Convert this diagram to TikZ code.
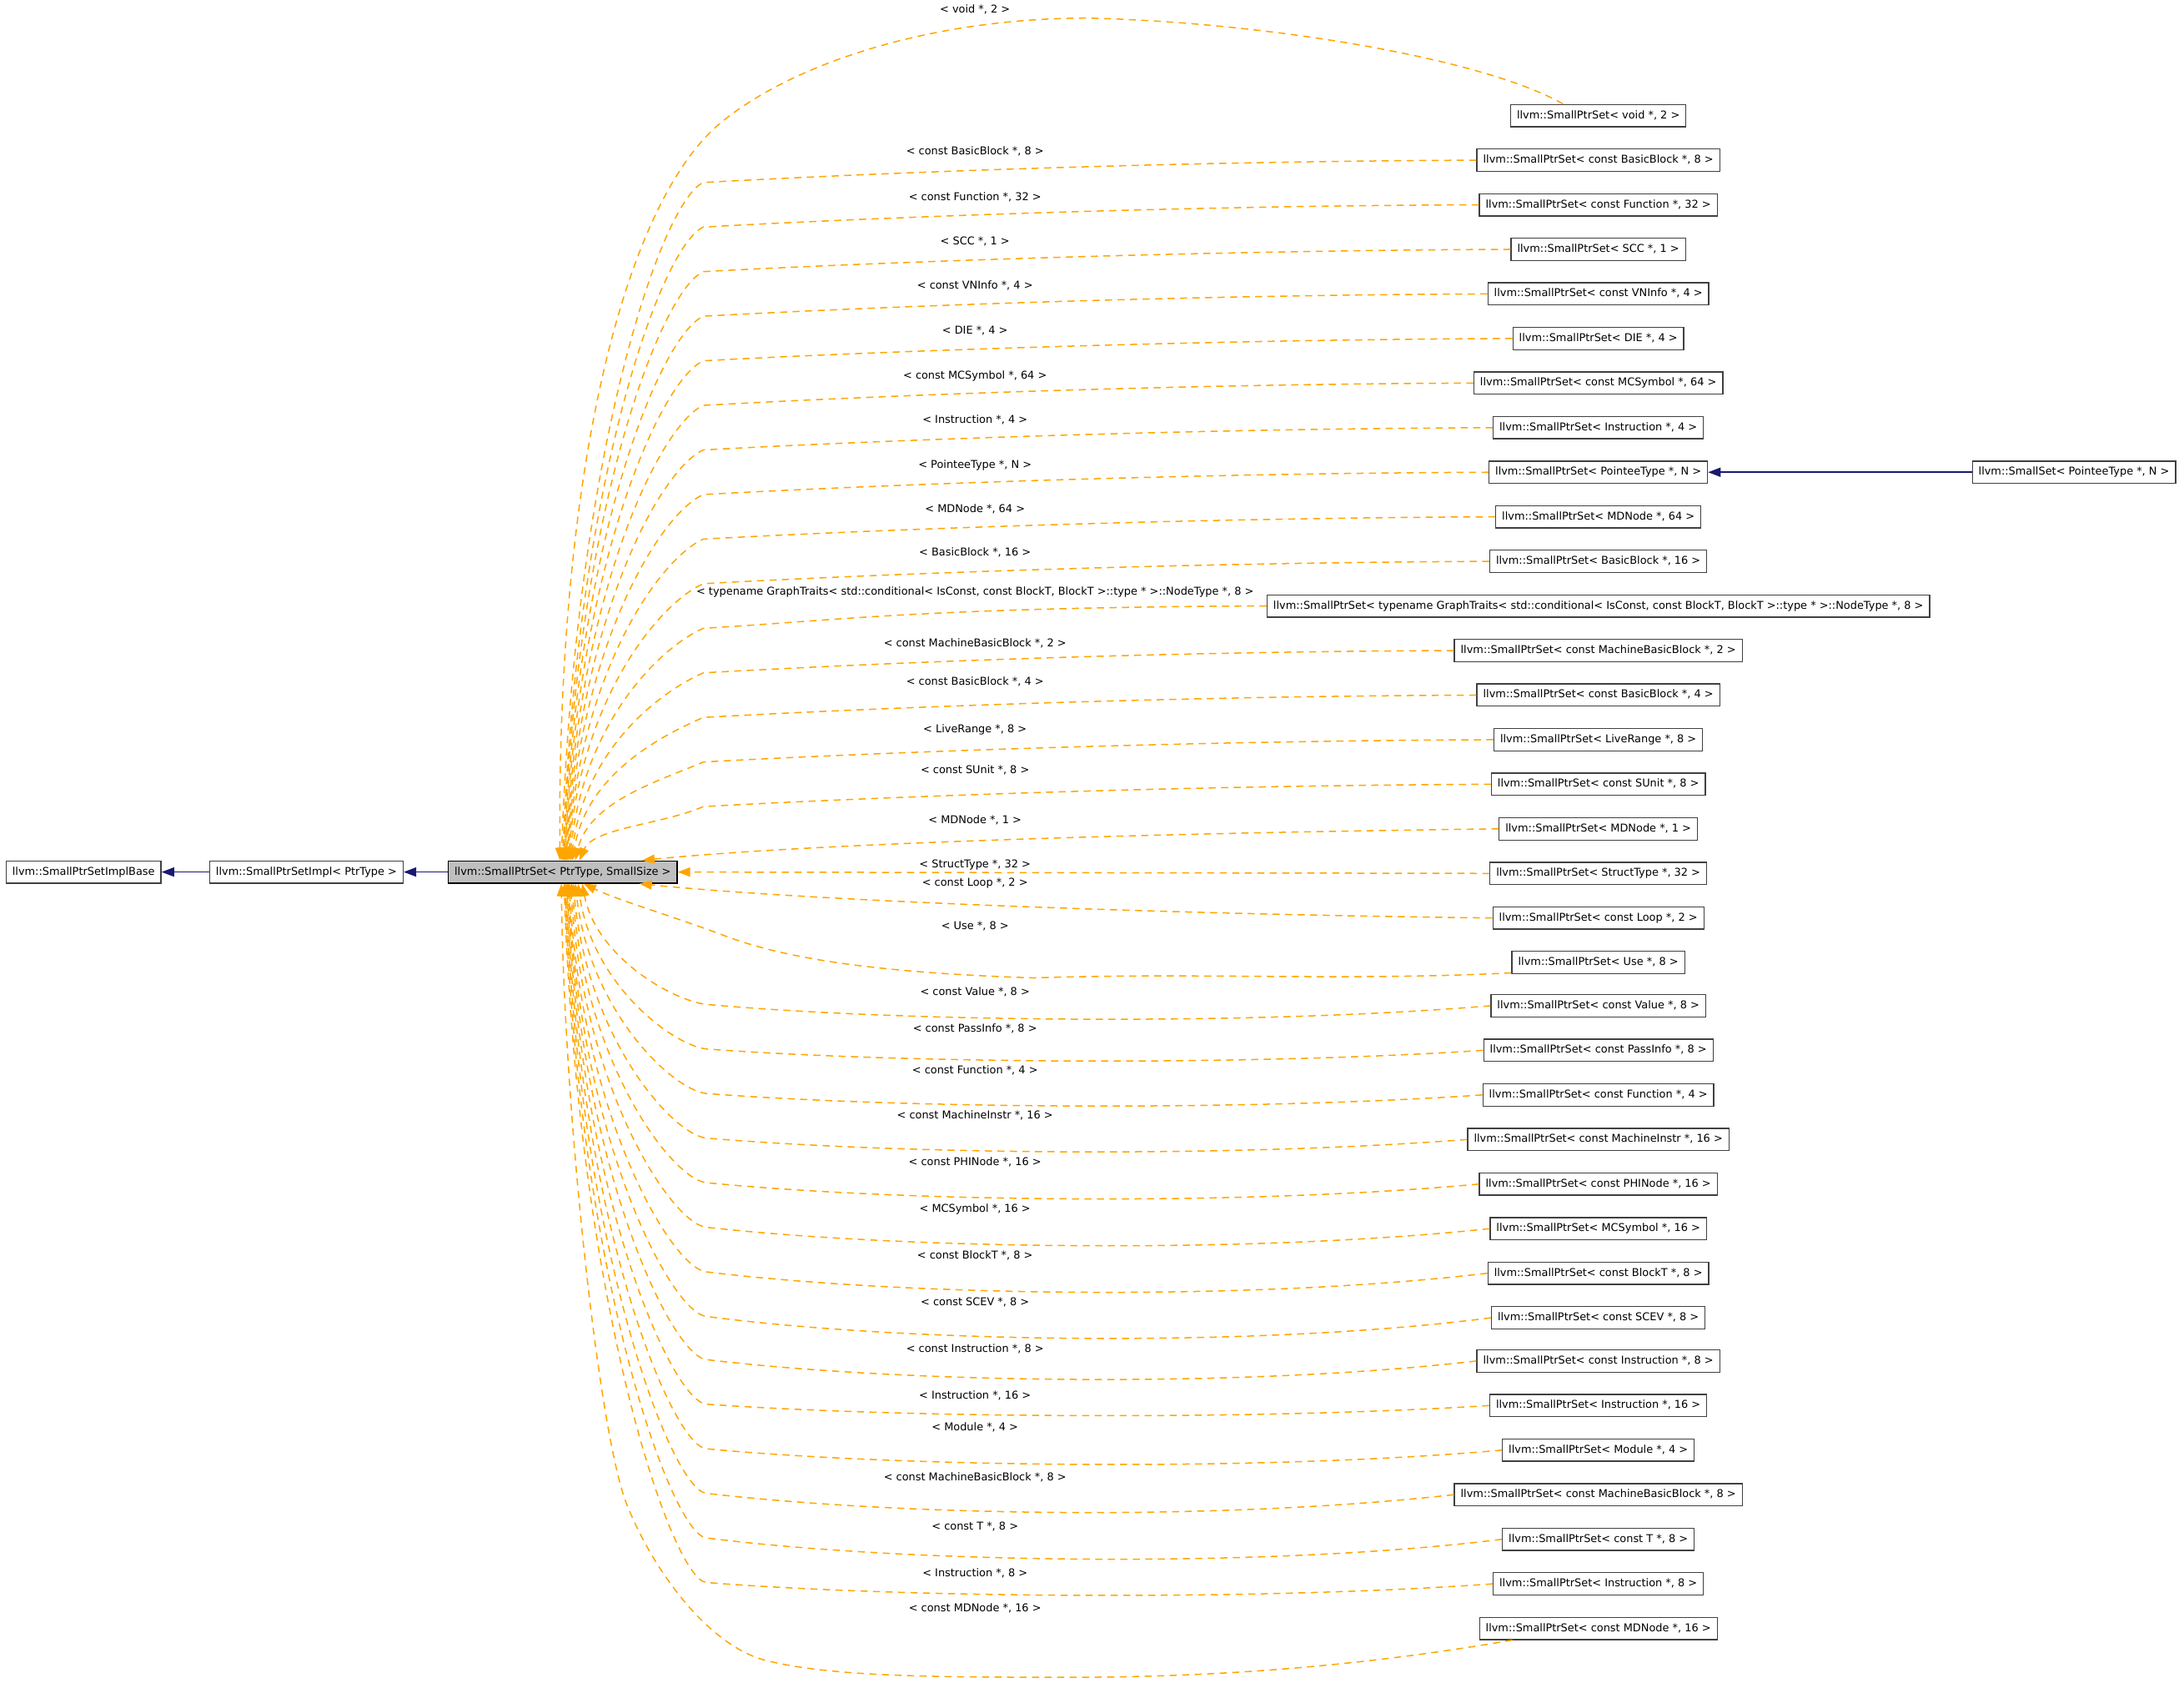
\documentclass[tikz,border=0pt]{standalone}
\usepackage{fontspec}
\setmainfont{DejaVu Sans}
\usetikzlibrary{arrows.meta,calc}
\definecolor{dxorange}{HTML}{FFA500}
\definecolor{dxnavy}{HTML}{191970}
\definecolor{dxgrey}{HTML}{BFBFBF}
\definecolor{dxborder}{HTML}{404040}
\tikzset{
  every node/.style={font=\fontsize{12.9pt}{15pt}\selectfont},
  cls/.style={draw=dxborder, line width=1.3pt, fill=white, inner xsep=7.5pt, inner ysep=0pt,
    minimum height=26.7pt, text height=9.6pt, text depth=2.6pt},
  lbl/.style={inner sep=0pt, text height=9.6pt, text depth=2.6pt},
  inh/.style={draw=dxorange, line width=1.5pt, dash pattern=on 8.5pt off 6.5pt,
    -{Triangle[length=15pt,width=11pt,fill=dxorange]}},
  pub/.style={draw=dxnavy, line width=1.5pt, -{Triangle[length=15pt,width=11pt,fill=dxnavy]}}
}
\newcommand\rn[3]{\node[cls] (#1) at (1147.5,#2) {llvm::SmallPtrSet< #3 >};}
\newcommand\lb[3]{\node[lbl] (l#1) at (700,#2) {< #3 >};}
\newcommand\tedge[3]{\draw[inh] (#1.west) .. controls +(-250,1) and +(90,-5) .. (505,#2+16) .. controls +(-30,13) and +(10,{-0.6*(602-#2)}) .. ($(g.north)+(#3,0)$);}
% #4 = sag of the line below the node, near x=770
\newcommand\bedge[4]{\pgfmathsetmacro\sg{#4/0.8625}\draw[inh] (#1.west) .. controls +(-170,{1.3*\sg}) and +(143,{\sg+2}) .. (507,#2-1) .. controls +(-25,-3) and +(10,{0.6*(#2-635)}) .. ($(g.south)+(#3,0)$);}
\begin{document}
\begin{tikzpicture}[x=1.6703pt,y=-1.6703pt]
\useasboundingbox (0,0) rectangle (1568,1208);
% left chain
\node[cls] (base) at (60,626) {llvm::SmallPtrSetImplBase};
\node[cls] (imp) at (220,626) {llvm::SmallPtrSetImpl< PtrType >};
\node[cls, fill=dxgrey, draw=black] (g) at (404,626) {llvm::SmallPtrSet< PtrType, SmallSize >};
\draw[pub] (imp.west) -- (base.east);
\draw[pub] (g.west) -- (imp.east);
% right nodes
\rn{n1}{83}{void *, 2}
\rn{n2}{115}{const BasicBlock *, 8}
\rn{n3}{147}{const Function *, 32}
\rn{n4}{179}{SCC *, 1}
\rn{n5}{211}{const VNInfo *, 4}
\rn{n6}{243}{DIE *, 4}
\rn{n7}{275}{const MCSymbol *, 64}
\rn{n8}{307}{Instruction *, 4}
\rn{n9}{339}{PointeeType *, N}
\rn{n10}{371}{MDNode *, 64}
\rn{n11}{403}{BasicBlock *, 16}
\rn{n12}{435}{typename GraphTraits< std::conditional< IsConst, const BlockT, BlockT >::type * >::NodeType *, 8}
\rn{n13}{467}{const MachineBasicBlock *, 2}
\rn{n14}{499}{const BasicBlock *, 4}
\rn{n15}{531}{LiveRange *, 8}
\rn{n16}{563}{const SUnit *, 8}
\rn{n17}{595}{MDNode *, 1}
\rn{n18}{627}{StructType *, 32}
\rn{n19}{659}{const Loop *, 2}
\rn{n20}{691}{Use *, 8}
\rn{n21}{722}{const Value *, 8}
\rn{n22}{754}{const PassInfo *, 8}
\rn{n23}{786}{const Function *, 4}
\rn{n24}{818}{const MachineInstr *, 16}
\rn{n25}{850}{const PHINode *, 16}
\rn{n26}{882}{MCSymbol *, 16}
\rn{n27}{914}{const BlockT *, 8}
\rn{n28}{946}{const SCEV *, 8}
\rn{n29}{977}{const Instruction *, 8}
\rn{n30}{1009}{Instruction *, 16}
\rn{n31}{1041}{Module *, 4}
\rn{n32}{1073}{const MachineBasicBlock *, 8}
\rn{n33}{1105}{const T *, 8}
\rn{n34}{1137}{Instruction *, 8}
\rn{n35}{1169}{const MDNode *, 16}
\node[cls] (ss) at (1489,339) {llvm::SmallSet< PointeeType *, N >};
\draw[pub] (ss.west) -- (n9.east);
% labels
\lb{1}{7.4}{void *, 2}
\lb{2}{109}{const BasicBlock *, 8}
\lb{3}{141.7}{const Function *, 32}
\lb{4}{173.7}{SCC *, 1}
\lb{5}{205.5}{const VNInfo *, 4}
\lb{6}{237.5}{DIE *, 4}
\lb{7}{269.8}{const MCSymbol *, 64}
\lb{8}{301.8}{Instruction *, 4}
\lb{9}{334}{PointeeType *, N}
\lb{10}{366}{MDNode *, 64}
\lb{11}{397}{BasicBlock *, 16}
\lb{12}{425}{typename GraphTraits< std::conditional< IsConst, const BlockT, BlockT >::type * >::NodeType *, 8}
\lb{13}{462}{const MachineBasicBlock *, 2}
\lb{14}{490}{const BasicBlock *, 4}
\lb{15}{524}{LiveRange *, 8}
\lb{16}{553}{const SUnit *, 8}
\lb{17}{589}{MDNode *, 1}
\lb{18}{621}{StructType *, 32}
\lb{19}{634}{const Loop *, 2}
\lb{20}{665}{Use *, 8}
\lb{21}{712.6}{const Value *, 8}
\lb{22}{739}{const PassInfo *, 8}
\lb{23}{769}{const Function *, 4}
\lb{24}{801}{const MachineInstr *, 16}
\lb{25}{834.6}{const PHINode *, 16}
\lb{26}{868}{MCSymbol *, 16}
\lb{27}{901.6}{const BlockT *, 8}
\lb{28}{935}{const SCEV *, 8}
\lb{29}{968.7}{const Instruction *, 8}
\lb{30}{1002}{Instruction *, 16}
\lb{31}{1025}{Module *, 4}
\lb{32}{1061}{const MachineBasicBlock *, 8}
\lb{33}{1096}{const T *, 8}
\lb{34}{1130}{Instruction *, 8}
\lb{35}{1155}{const MDNode *, 16}
% edges, upper half
\draw[inh] ($(n1.north west)!0.3!(n1.north east)$) .. controls (1065,42) and (910,16) .. (781,13)
  .. controls (660,13) and (560,50) .. (513,92) .. controls (450,150) and (400,330) .. ($(g.north)+(-2,0)$);
\tedge{n2}{115}{-1}
\tedge{n3}{147}{0}
\tedge{n4}{179}{0.5}
\tedge{n5}{211}{1}
\tedge{n6}{243}{1.5}
\tedge{n7}{275}{2}
\tedge{n8}{307}{2.5}
\tedge{n9}{339}{3}
\tedge{n10}{371}{3.5}
\tedge{n11}{403}{4}
\tedge{n12}{435}{5}
\tedge{n13}{467}{6}
\tedge{n14}{499}{7}
\tedge{n15}{531}{9}
\tedge{n16}{563}{12}
\draw[inh] (n17.west) .. controls +(-250,3) and +(120,-12) .. ($(g.north)+(57,0)$);
\draw[inh] (n18.west) -- (g.east);
\draw[inh] (n19.west) .. controls +(-250,-3) and +(120,12) .. ($(g.south)+(55,0)$);
\draw[inh] ($(n20.south west)+(0,-1)$) .. controls +(-120,6) and +(120,-4) .. (742,702)
  .. controls +(-120,-4) and +(40,15) .. (521,672) .. controls +(-40,-15) and +(25,12) .. ($(g.south)+(15,0)$);
% lower half
\bedge{n21}{722}{14}{9.4}
\bedge{n22}{754}{11}{7.4}
\bedge{n23}{786}{9}{7.7}
\bedge{n24}{818}{7.5}{8.6}
\bedge{n25}{850}{6.5}{10.4}
\bedge{n26}{882}{5.5}{12}
\bedge{n27}{914}{4.5}{13.4}
\bedge{n28}{946}{4}{14.5}
\bedge{n29}{977}{3.5}{13}
\bedge{n30}{1009}{3}{7}
\bedge{n31}{1041}{2.5}{10}
\bedge{n32}{1073}{2}{12.5}
\bedge{n33}{1105}{1.5}{14}
\bedge{n34}{1137}{1}{8}
\draw[inh] ($(n35.south west)!0.14!(n35.south east)$) .. controls (960,1199) and (850,1205) .. (742,1204)
  .. controls (650,1204) and (590,1202) .. (550,1192) .. controls (510,1182) and (470,1130) .. (450,1080)
  .. controls (430,1030) and (405,800) .. ($(g.south)+(-1,0)$);
\end{tikzpicture}
\end{document}
